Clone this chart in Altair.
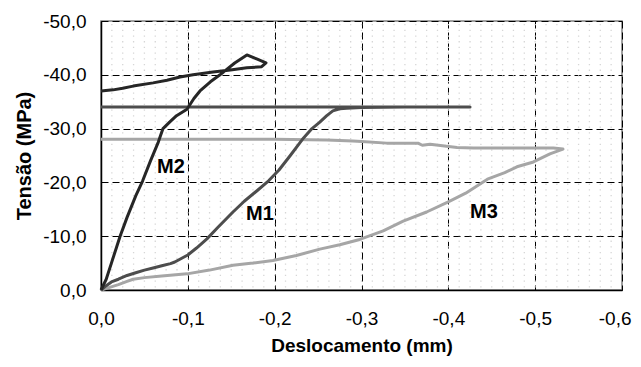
import altair as alt
import pandas as pd

# ---- data (x: displacement mm, y: stress MPa) ----
m2_x = [0, -0.006, -0.012, -0.018, -0.022, -0.03, -0.04, -0.048, -0.057, -0.066, -0.0714,
        -0.079, -0.087, -0.099, -0.107, -0.114, -0.126, -0.137, -0.154, -0.168, -0.18, -0.19,
        -0.185, -0.168, -0.149, -0.129, -0.106, -0.091, -0.076, -0.06, -0.037, -0.025, -0.014, 0]
m2_y = [0, -2.0, -5.0, -8.0, -10.0, -13.5, -17.5, -20.3, -24.0, -27.5, -30.0,
        -31.2, -32.4, -33.6, -35.6, -37.0, -38.7, -40.0, -42.2, -43.7, -42.9, -42.2,
        -41.5, -41.3, -40.9, -40.5, -40.0, -39.6, -39.0, -38.5, -37.9, -37.5, -37.2, -37.0]

m1_x = [0, -0.006, -0.012, -0.02, -0.03, -0.04, -0.05, -0.06, -0.07, -0.08, -0.085, -0.093,
        -0.1, -0.11, -0.122, -0.135, -0.152, -0.165, -0.18, -0.193, -0.205, -0.218, -0.232,
        -0.243, -0.252, -0.26, -0.267, -0.275, -0.283, -0.3, -0.35, -0.425, -0.3, -0.15, 0]
m1_y = [0, -0.8, -1.5, -2.0, -2.7, -3.2, -3.7, -4.1, -4.5, -4.9, -5.2, -5.9,
        -6.5, -7.8, -9.5, -11.7, -14.5, -16.5, -18.5, -20.3, -22.3, -25.0, -28.0,
        -30.0, -31.2, -32.4, -33.3, -33.7, -33.8, -33.9, -34.0, -34.0, -34.0, -34.0, -34.0]

m3_x = [0, -0.01, -0.02, -0.03, -0.037, -0.05, -0.07, -0.099, -0.125, -0.152, -0.175, -0.198,
        -0.225, -0.252, -0.275, -0.298, -0.325, -0.348, -0.375, -0.4, -0.42, -0.445, -0.465,
        -0.479, -0.498, -0.517, -0.532, -0.521, -0.5, -0.46, -0.429, -0.41, -0.398, -0.379,
        -0.37, -0.365, -0.35, -0.329, -0.3, -0.29, -0.26, -0.2, -0.1, 0]
m3_y = [0, -0.5, -1.0, -1.6, -2.0, -2.3, -2.6, -3.0, -3.7, -4.6, -5.0, -5.5,
        -6.4, -7.6, -8.4, -9.4, -11.0, -12.8, -14.5, -16.4, -18.0, -20.6, -21.8,
        -22.9, -23.8, -25.3, -26.2, -26.4, -26.4, -26.4, -26.4, -26.5, -26.7, -27.1,
        -26.9, -27.3, -27.3, -27.3, -27.6, -27.7, -27.9, -28.0, -28.0, -28.0]

series_names = ["M3", "M1", "M2"]
series_colors = ["#a6a6a6", "#4d4d4d", "#262626"]

label_text = ["M2", "M1", "M3"]
label_x = [-0.0806, -0.183, -0.441]
label_y = [-22.9, -14.1, -14.5]

x_ticks = [0, -0.1, -0.2, -0.3, -0.4, -0.5, -0.6]
y_ticks = [0, -10, -20, -30, -40, -50]

# ---- tables ----
rows = []
for name, xs, ys in [("M3", m3_x, m3_y), ("M1", m1_x, m1_y), ("M2", m2_x, m2_y)]:
    for i, (a, b) in enumerate(zip(xs, ys)):
        rows.append({"series": name, "idx": i, "x": a, "y": b})
df = pd.DataFrame(rows)
df_lab = pd.DataFrame({"t": label_text, "x": label_x, "y": label_y})

W, H = 521, 269
FONT = "Liberation Sans"
lab_expr = "(datum.value < 0 ? '-' : '') + replace(format(abs(datum.value), '.1f'), '.', ',')"

xscale = alt.Scale(domain=[0, -0.6], nice=False, zero=False)
yscale = alt.Scale(domain=[0, -50], nice=False, zero=False)

xaxis = alt.Axis(values=x_ticks, labelExpr=lab_expr, title="Deslocamento (mm)",
                 grid=True, gridDash=[7, 4], gridColor="#000000", gridWidth=1,
                 domainColor="#000000", domainWidth=1.5, ticks=False, labelFlush=False,
                 labelAlign={"condition": {"test": "datum.value < -0.55", "value": "right"},
                             "value": "center"},
                 labelOffset={"condition": {"test": "datum.value < -0.55", "value": 9},
                              "value": 0},
                 labelPadding=19, labelFont=FONT, labelFontSize=19, labelColor="#000",
                 titleFont=FONT, titleFontSize=19, titleFontWeight="bold", titleColor="#000",
                 titleX=W / 2, titleY=55, titleBaseline="middle", titleAlign="center")
yaxis = alt.Axis(values=y_ticks, labelExpr=lab_expr, title="Tensão (MPa)",
                 grid=True, gridDash=[7, 4], gridColor="#000000", gridWidth=1,
                 domainColor="#000000", domainWidth=1.5, ticks=False, labelFlush=False,
                 labelPadding=15, labelFont=FONT, labelFontSize=19, labelColor="#000",
                 titleFont=FONT, titleFontSize=20, titleFontWeight="bold", titleColor="#000",
                 titleAngle=270, titleX=-77, titleY=H / 2, titleBaseline="middle",
                 titleAlign="center")

base = alt.Chart(df).mark_point(opacity=0).encode(
    x=alt.X("x:Q", scale=xscale, axis=xaxis),
    y=alt.Y("y:Q", scale=yscale, axis=yaxis),
)

# dotted background texture
dots = alt.Chart(alt.sequence(start=-0.0125, stop=-0.6, step=-0.0125, as_="x")).mark_rule(
    color="#d6d6d6", strokeWidth=1.3, strokeDash=[1.3, 4.4], strokeDashOffset=-3
).encode(x=alt.X("x:Q", scale=xscale, axis=xaxis),
         y=alt.value(0), y2=alt.value(H))

lines = alt.Chart(df).mark_line(strokeWidth=3, strokeJoin="round").encode(
    x=alt.X("x:Q", scale=xscale, axis=xaxis),
    y=alt.Y("y:Q", scale=yscale, axis=yaxis),
    color=alt.Color("series:N", scale=alt.Scale(domain=series_names, range=series_colors),
                    legend=None, sort=series_names),
    order="idx:Q",
)

labels = alt.Chart(df_lab).mark_text(font=FONT, fontSize=20, fontWeight="bold",
                                     color="#000").encode(
    x=alt.X("x:Q", scale=xscale, axis=xaxis),
    y=alt.Y("y:Q", scale=yscale, axis=yaxis), text="t:N")

chart = alt.layer(base, dots, lines, labels).properties(
    width=W, height=H, autosize="none",
    padding={"left": 93, "top": 13, "right": 10, "bottom": 68},
).configure_view(stroke="#808080", strokeWidth=1.5, fill="#ffffff")

chart.save("out.html", embed_options={"renderer": "svg", "actions": False})
